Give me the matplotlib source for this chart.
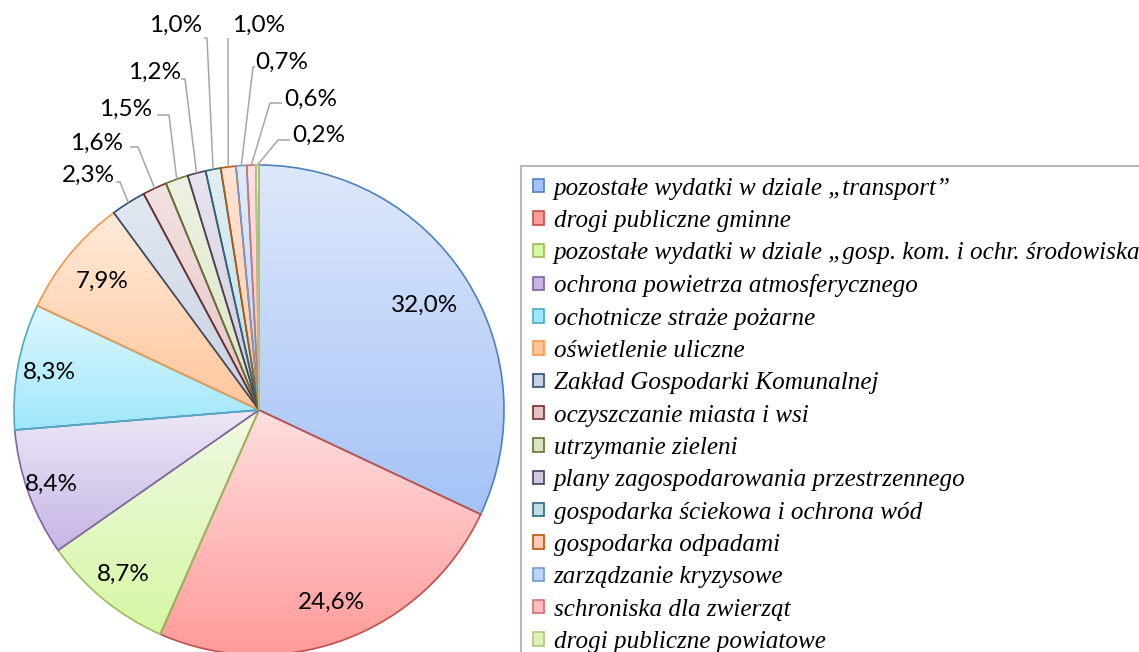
import matplotlib

matplotlib.use("Agg")
import matplotlib.pyplot as plt
import numpy as np
from matplotlib.colors import to_rgb
from matplotlib.patches import Patch

CATEGORIES = [
    "pozostałe wydatki w dziale „transport”",
    "drogi publiczne gminne",
    "pozostałe wydatki w dziale „gosp. kom. i ochr. środowiska”",
    "ochrona powietrza atmosferycznego",
    "ochotnicze straże pożarne",
    "oświetlenie uliczne",
    "Zakład Gospodarki Komunalnej",
    "oczyszczanie miasta i wsi",
    "utrzymanie zieleni",
    "plany zagospodarowania przestrzennego",
    "gospodarka ściekowa i ochrona wód",
    "gospodarka odpadami",
    "zarządzanie kryzysowe",
    "schroniska dla zwierząt",
    "drogi publiczne powiatowe",
]
SHARES = [32.0, 24.6, 8.7, 8.4, 8.3, 7.9, 2.3, 1.6, 1.5, 1.2, 1.0, 1.0, 0.7, 0.6, 0.2]

EDGES = ["#4F81BD", "#C0504D", "#9BBB59", "#8064A2", "#4BACC6", "#F79646",
         "#2C4D75", "#772C2A", "#5F7530", "#4D3B62", "#276A7C", "#B65708",
         "#729ACA", "#CD7371", "#AFC97A"]
# gradient (top, bottom) per slice
FILLS = [("#DEE8FB", "#A4C2F7"), ("#FFDEDE", "#FF9A9A"), ("#F0F9E3", "#D6F7A4"),
         ("#EEE8F7", "#C5B5E5"), ("#DFF7FE", "#9FE7FC"), ("#FFEBDB", "#FFC69B"),
         ("#E3E8F0", "#C6D1E2"), ("#F3E2E2", "#E3C3C3"), ("#EEF2E3", "#DAE4C5"),
         ("#E8E4EE", "#D0C8DC"), ("#E1EEF2", "#C2DDE5"), ("#FFE3D5", "#FFCAB0"),
         ("#E1EBFB", "#BDD4F7"), ("#FFE1E1", "#FFBDBD"), ("#F2F9E3", "#DEF1B8")]

W, H = 1139, 652
CX, CY, R = 259, H - 410, 245

# inside labels: radius factor; outside labels: text centre + leader stub/elbow (pixels, y down)
INSIDE_R = [0.80, 0.84, 0.87, 0.90, 0.87, 0.83]
OUTSIDE = [
    ((88, 175), (116, 182), (120, 182)),
    ((97, 143), (130, 147), (138, 147)),
    ((126, 109), (157, 115), (169, 115)),
    ((155, 72), (181, 79), (185, 79)),
    ((176, 25), (204, 38), (207, 38)),
    ((259, 25), (228, 38), (228, 38)),
    ((282, 62), (255, 67), (253, 67)),
    ((311, 99), (282, 103), (270, 103)),
    ((319, 135), (290, 140), (278, 140)),
]

fig = plt.figure(figsize=(W / 100, H / 100), dpi=100)
ax = fig.add_axes([0, 0, 1, 1])

wedges, _ = ax.pie(SHARES, startangle=90, counterclock=False, center=(CX, CY),
                   radius=R, wedgeprops=dict(facecolor="none", linewidth=1.2))

for w, ec, (top, bot) in zip(wedges, EDGES, FILLS):
    w.set_edgecolor(ec)
    w.set_zorder(3)
    ext = w.get_path().get_extents()
    grad = np.linspace(np.array(to_rgb(bot)), np.array(to_rgb(top)), 256)[:, None, :]
    im = ax.imshow(grad, extent=[ext.x0, ext.x1, ext.y0, ext.y1], origin="lower",
                   interpolation="bilinear", zorder=2)
    im.set_clip_path(w)

pct = [f"{v:.1f}%".replace(".", ",") for v in SHARES]
lab_font = dict(family="Lato", fontsize=17.5, color="black")

for w, rf, txt in zip(wedges, INSIDE_R, pct):
    a = np.deg2rad((w.theta1 + w.theta2) / 2)
    ax.text(CX + rf * R * np.cos(a), CY + rf * R * np.sin(a), txt,
            ha="center", va="center", zorder=5, **lab_font)

for w, (tpos, stub, elbow), txt in zip(wedges[6:], OUTSIDE, pct[6:]):
    a = np.deg2rad((w.theta1 + w.theta2) / 2)
    ex, ey = CX + R * np.cos(a), CY + R * np.sin(a)
    ax.plot([stub[0], elbow[0], ex], [H - stub[1], H - elbow[1], ey],
            color="#A6A6A6", lw=1.1, zorder=4, solid_capstyle="butt")
    ax.text(tpos[0], H - tpos[1], txt, ha="center", va="center", zorder=5, **lab_font)

ax.set_xlim(0, W)
ax.set_ylim(0, H)
ax.set_axis_off()

handles = [Patch(facecolor=b, edgecolor=ec, linewidth=1.2) for ec, (t, b) in zip(EDGES, FILLS)]
leg = fig.legend(handles, CATEGORIES, loc="upper left", bbox_to_anchor=(521 / W, 1 - 166 / H),
                 prop=dict(family="Liberation Serif", style="italic", size=18.1),
                 frameon=True, fancybox=False, borderpad=0.46, labelspacing=0.41,
                 handlelength=0.44, handleheight=0.44, handletextpad=0.4,
                 borderaxespad=0)
leg.get_frame().set_edgecolor("#A6A6A6")
leg.get_frame().set_linewidth(1.5)

fig.savefig("out.png", dpi=100)
